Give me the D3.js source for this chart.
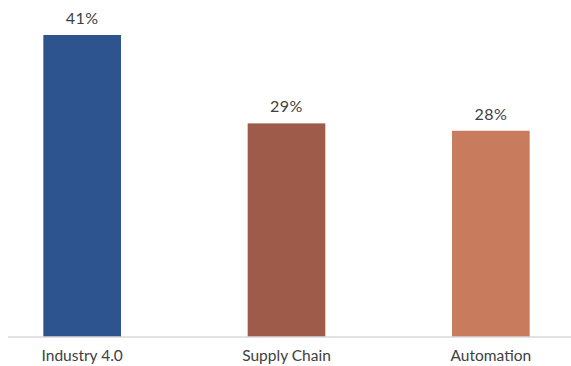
<!DOCTYPE html>
<meta charset="utf-8">
<style>
body { margin: 0; background: #fff; }
text { font-family: Lato, 'Open Sans', sans-serif; }
</style>
<script src="https://d3js.org/d3.v7.min.js"></script>
<div id="chart"></div>
<script>
// data
var categories = ["Industry 4.0", "Supply Chain", "Automation"];
var shares = [41, 29, 28];
var barColors = ["#2E5490", "#9E5B4A", "#C97B5E"];

var width = 571, height = 366;
var baseline = 337;

var svg = d3.select("#chart")
  .append("svg")
    .attr("width", width)
    .attr("height", height);

var x = d3.scaleBand()
  .domain(categories)
  .range([-20, 593])
  .paddingInner(0.62)
  .paddingOuter(0.31);

var y = d3.scaleLinear()
  .domain([0, 41])
  .range([baseline, 35]);

var rows = categories.map(function(c, i) { return {cat: c, val: shares[i], col: barColors[i]}; });

// bars
svg.selectAll("rect.bar")
  .data(rows)
  .enter()
  .append("rect")
    .attr("class", "bar")
    .attr("x", function(d) { return x(d.cat); })
    .attr("y", function(d) { return y(d.val); })
    .attr("width", x.bandwidth())
    .attr("height", function(d) { return baseline - y(d.val); })
    .style("fill", function(d) { return d.col; });

// base line + category labels
var axis = svg.append("g")
  .attr("transform", "translate(0," + baseline + ")")
  .call(d3.axisBottom(x).tickSize(0).tickPadding(13));
axis.select(".domain").remove();
axis.append("line")
  .attr("x1", 8).attr("x2", 571)
  .attr("stroke", "#D9D9D9").attr("stroke-width", 1.5);
axis.selectAll(".tick text")
  .style("font-family", "Lato, 'Open Sans', sans-serif")
  .style("font-size", "15.5px")
  .style("fill", "#404040");

// value labels
svg.selectAll("text.val")
  .data(rows)
  .enter()
  .append("text")
    .attr("class", "val")
    .attr("x", function(d) { return x(d.cat) + x.bandwidth() / 2; })
    .attr("y", function(d) { return y(d.val) - 11; })
    .attr("text-anchor", "middle")
    .style("font-size", "16px")
    .style("letter-spacing", "0.5px")
    .style("fill", "#404040")
    .text(function(d) { return d.val + "%"; });
</script>
